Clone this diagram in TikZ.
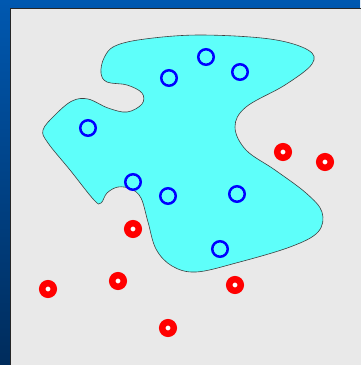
\documentclass[tikz,border=0pt]{standalone}
\usetikzlibrary{positioning}

\definecolor{frameblue}{RGB}{0,88,176}
\definecolor{framedark}{RGB}{0,44,92}
\definecolor{panelgray}{RGB}{233,233,233}
\definecolor{blobcyan}{RGB}{94,255,250}

\begin{document}
\begin{tikzpicture}[x=1pt, y=-1pt]
    % --- CONFIGURAZIONE ---
    \tikzset{
        ring_style/.style={circle, draw=blue, line width=2.5pt, inner sep=0pt, minimum size=15.5pt},
        dot_style/.style={circle, draw=red, fill=white, line width=6.5pt, inner sep=0pt, minimum size=11.5pt},
        blob_style/.style={draw=black!75, fill=blobcyan, line width=0.6pt}
    }

    \useasboundingbox (0,0) rectangle (360,365);

    % ===================================================
    % 1. CORNICE
    % ===================================================
    \shade[top color=frameblue, bottom color=framedark] (0,0) rectangle (360,365);
    \fill[panelgray, draw=black!85, line width=1pt] (10.5,8.5) rectangle (362,367);

    % ===================================================
    % 2. REGIONE
    % ===================================================
    \draw[blob_style] plot[smooth cycle, tension=0.6] coordinates {
        (104,58) (101,73) (107,82) (127,85) (142,93) (142,104) (127,112)
        (108,108) (88,99) (72,101) (55,115) (43,130) (48,143) (70,170)
        (94,200) (101,203) (107,193) (118,187) (131,189) (141,198) (148,222)
        (156,249) (172,266) (196,272) (236,263) (290,247) (318,232) (322,212)
        (306,193) (275,170) (246,150) (235,127) (246,107) (285,85) (312,64)
        (308,50) (270,39) (200,35) (145,39) (115,46)
    };

    % Punti interni
    \foreach \n/\x/\y in {1/206/57, 2/169/78, 3/240/72, 4/88/128, 5/133/182, 6/168/196, 7/237/194, 8/220/249} {
        \node[ring_style] (b\n) at (\x,\y) {};
    }

    % Punti esterni
    \foreach \n/\x/\y in {1/283/152, 2/325/162, 3/133/229, 4/48/289, 5/118/281, 6/235/285, 7/168/328} {
        \node[dot_style] (r\n) at (\x,\y) {};
    }

\end{tikzpicture}
\end{document}
